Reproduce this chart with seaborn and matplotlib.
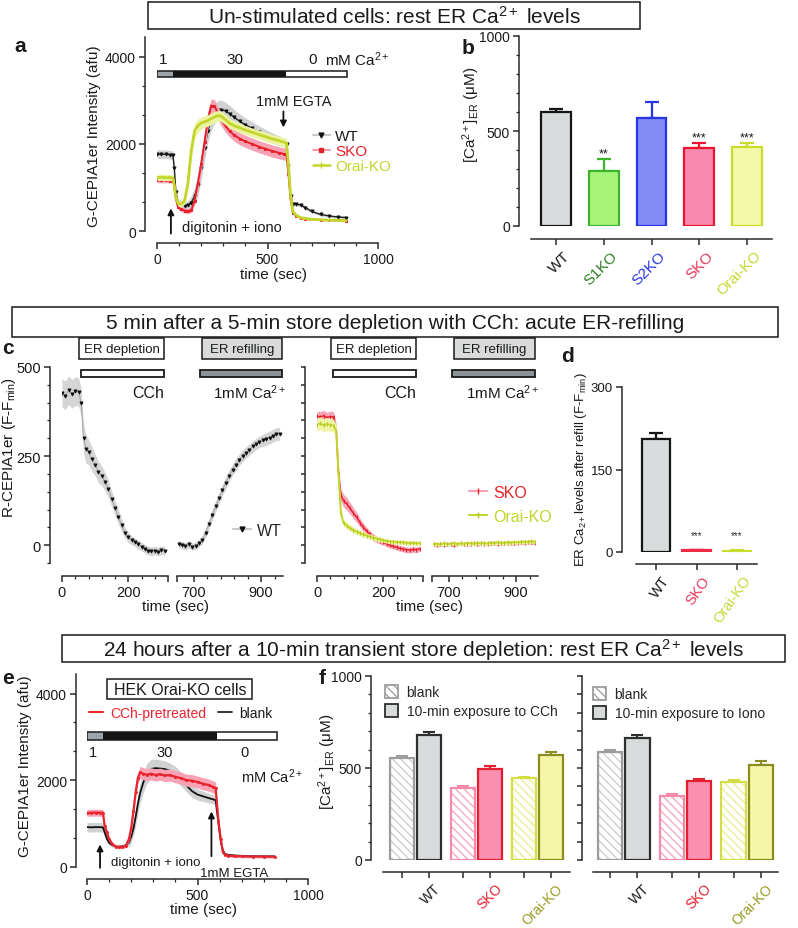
import numpy as np
import pandas as pd
import matplotlib
matplotlib.use("Agg")
import matplotlib.pyplot as plt
import seaborn as sns
from matplotlib.patches import Rectangle, Patch
from matplotlib.lines import Line2D
from matplotlib.ticker import MultipleLocator, FixedLocator, NullFormatter, AutoMinorLocator
from matplotlib.transforms import ScaledTranslation
from matplotlib import font_manager

# ======================= DATA =======================
# (a) un-stimulated cells, G-CEPIA1er traces (afu)
t_a = [0, 20, 40, 60, 72, 78, 85, 95, 110, 125, 140, 155, 170, 185, 200, 215, 230, 245, 260, 275, 290,
       310, 330, 350, 375, 400, 430, 460, 490, 520, 550, 575, 586, 595, 605, 615, 630, 650, 670, 700,
       740, 780, 820, 855]
wt_a = [1770, 1760, 1765, 1750, 1740, 1450, 900, 650, 600, 580, 590, 650, 800, 1050, 1450, 1900, 2300,
        2550, 2700, 2770, 2790, 2760, 2690, 2610, 2520, 2440, 2360, 2280, 2210, 2140, 2080, 2030, 1990,
        1500, 800, 620, 615, 600, 540, 450, 380, 345, 320, 310]
wt_a_sem = [100, 100, 100, 100, 100, 150, 150, 100, 90, 90, 100, 150, 200, 250, 280, 280, 260, 240, 230,
            220, 220, 200, 190, 180, 170, 160, 150, 140, 130, 120, 110, 100, 100, 100, 80, 50, 45, 40, 40,
            35, 30, 30, 30, 30]
sko_a = [1170, 1165, 1170, 1160, 1180, 1050, 750, 550, 500, 470, 460, 480, 700, 1100, 1550, 2050, 2550,
         2880, 2870, 2720, 2570, 2410, 2290, 2200, 2120, 2060, 2000, 1940, 1890, 1840, 1800, 1770, 1750,
         1300, 700, 420, 350, 300, 280, 265, 255, 250, 245, 240]
sko_a_sem = [60, 60, 60, 60, 60, 80, 80, 60, 60, 60, 60, 60, 100, 150, 180, 200, 200, 160, 150, 150, 150,
             140, 140, 140, 140, 140, 140, 140, 140, 140, 140, 140, 140, 120, 80, 40, 30, 25, 25, 20, 20,
             20, 20, 20]
orai_a = [1230, 1235, 1225, 1230, 1220, 1050, 780, 640, 620, 700, 1100, 1850, 2300, 2420, 2480, 2510,
          2540, 2580, 2620, 2650, 2640, 2560, 2470, 2420, 2370, 2320, 2270, 2220, 2170, 2120, 2080, 2040,
          2020, 1500, 800, 450, 360, 310, 290, 270, 260, 250, 245, 240]
orai_a_sem = [70, 70, 70, 70, 70, 80, 80, 70, 70, 80, 150, 200, 180, 150, 140, 130, 130, 130, 130, 120,
              120, 120, 110, 110, 110, 100, 100, 100, 100, 100, 100, 100, 100, 100, 80, 40, 30, 25, 25,
              20, 20, 20, 20, 20]
ca_a_times = [0, 72, 585, 860]
ca_levels = ["1", "30", "0"]

# (b) resting [Ca2+]ER (uM)
cats_b = ["WT", "S1KO", "S2KO", "SKO", "Orai-KO"]
vals_b = [598, 290, 567, 412, 415]
err_b = [18, 62, 88, 26, 23]
stars_b = ["", "**", "", "***", "***"]

# (c) R-CEPIA1er, depletion (CCh) and refilling (1 mM Ca2+)
t_dep = [0, 10, 20, 30, 40, 50, 58, 65, 72, 80, 90, 100, 110, 120, 130, 140, 150, 160, 170, 180, 190,
         200, 210, 220, 230, 240, 250, 260, 270, 280, 290, 300, 310]
t_ref = [655, 665, 675, 685, 695, 705, 715, 725, 735, 745, 755, 765, 775, 785, 795, 805, 815, 825, 835,
         845, 855, 865, 875, 885, 895, 905, 915, 925, 935, 945, 955]
wt_dep = [428, 420, 435, 425, 432, 430, 400, 300, 270, 262, 242, 225, 205, 195, 178, 158, 130, 105, 80,
          57, 35, 22, 14, 8, 2, -4, -10, -15, -17, -15, -18, -14, -16]
wt_dep_sem = [40, 40, 40, 40, 40, 40, 40, 40, 40, 35, 35, 30, 30, 28, 25, 25, 22, 20, 20, 18, 15, 15,
              12, 12, 12, 12, 12, 12, 12, 12, 12, 12, 12]
wt_ref = [3, 0, -3, 2, -4, -2, 5, 15, 35, 60, 85, 110, 132, 155, 175, 195, 212, 226, 240, 250, 260, 268,
          277, 284, 290, 294, 298, 302, 307, 312, 312]
wt_ref_sem = [10, 10, 10, 10, 10, 10, 10, 12, 12, 14, 15, 15, 16, 16, 16, 16, 16, 16, 16, 16, 16, 16,
              16, 16, 16, 17, 18, 18, 18, 18, 18]
sko_dep = [362, 360, 363, 358, 361, 360, 320, 200, 140, 125, 116, 103, 90, 78, 63, 50, 40, 30, 22, 16,
           12, 8, 4, 0, -3, -6, -9, -11, -13, -14, -12, -13, -10]
sko_dep_sem = [15, 15, 15, 15, 15, 15, 20, 20, 18, 18, 18, 16, 15, 14, 12, 12, 10, 10, 10, 9, 9, 8, 8,
               8, 8, 8, 8, 8, 8, 8, 8, 8, 8]
orai_dep = [338, 342, 336, 340, 338, 335, 320, 200, 90, 62, 55, 48, 42, 38, 34, 30, 27, 24, 21, 18, 16,
            14, 12, 10, 10, 9, 8, 8, 7, 6, 7, 5, 6]
orai_dep_sem = [18, 18, 18, 18, 18, 18, 18, 15, 12, 10, 10, 9, 9, 8, 8, 8, 7, 7, 7, 7, 7, 6, 6, 6, 6,
                6, 6, 6, 6, 6, 6, 6, 6]
sko_ref = [2, 0, 3, 1, 2, 4, 0, 3, 5, 2, 4, 3, 6, 2, 5, 4, 3, 6, 5, 4, 6, 5, 7, 6, 5, 7, 8, 6, 9, 8, 7]
sko_ref_sem = [5, 5, 6, 5, 5, 6, 5, 5, 6, 5, 5, 6, 5, 5, 6, 5, 5, 6, 5, 5, 6, 5, 5, 6, 5, 5, 6, 5, 5, 6, 5]
orai_ref = [3, 4, 2, 5, 3, 4, 6, 3, 5, 4, 6, 5, 4, 7, 5, 6, 5, 7, 6, 8, 6, 7, 8, 7, 9, 8, 9, 10, 9, 11, 10]
orai_ref_sem = [5, 5, 5, 6, 5, 5, 5, 6, 5, 5, 5, 6, 5, 5, 5, 6, 5, 5, 5, 6, 5, 5, 5, 6, 5, 5, 5, 6, 5, 5, 5]

# (d) ER Ca2+ after refill (F-Fmin)
cats_d = ["WT", "SKO", "Orai-KO"]
vals_d = [205, 3, 2]
err_d = [11, 1, 1]
stars_d = ["", "***", "***"]

# (e) HEK Orai-KO cells, 24 h after CCh pre-treatment
t_e = [0, 20, 40, 60, 72, 80, 90, 100, 115, 130, 145, 160, 175, 190, 200, 210, 220, 230, 240, 255, 270,
       290, 310, 330, 350, 375, 400, 425, 450, 475, 500, 525, 550, 570, 582, 595, 605, 615, 625, 640, 670,
       700, 750, 800, 850]
cch_e = [1250, 1250, 1255, 1250, 1250, 950, 800, 640, 530, 470, 460, 470, 480, 650, 900, 1280, 1720,
         2050, 2180, 2150, 2130, 2150, 2120, 2140, 2110, 2120, 2080, 2050, 2000, 1990, 1960, 1920, 1890,
         1850, 1820, 1050, 650, 340, 280, 260, 250, 245, 240, 240, 235]
cch_e_sem = [80, 80, 80, 80, 80, 70, 60, 50, 40, 40, 40, 40, 40, 60, 80, 100, 120, 130, 140, 140, 140,
             140, 140, 140, 140, 140, 140, 140, 140, 140, 140, 140, 140, 140, 140, 100, 60, 40, 30, 30, 30,
             30, 30, 30, 30]
blank_e = [920, 915, 920, 918, 915, 800, 650, 560, 500, 470, 470, 480, 500, 560, 700, 880, 1150, 1450,
           1700, 1950, 2150, 2260, 2280, 2270, 2260, 2220, 2150, 2030, 1880, 1750, 1670, 1630, 1590, 1560,
           1540, 1000, 600, 380, 300, 280, 265, 258, 250, 248, 245]
blank_e_sem = [110, 110, 110, 110, 110, 90, 70, 50, 40, 40, 40, 40, 50, 80, 120, 160, 200, 220, 230, 230,
               230, 220, 210, 200, 190, 180, 170, 160, 150, 140, 130, 120, 110, 100, 100, 80, 50, 30, 25,
               25, 25, 25, 25, 25, 25]
ca_e_times = [0, 72, 590, 860]

# (f) resting [Ca2+]ER 24 h after 10-min exposure
groups_f = ["WT", "SKO", "Orai-KO"]
cch_blank = [554, 391, 446]
cch_blank_err = [9, 11, 6]
cch_treat = [679, 494, 571]
cch_treat_err = [16, 17, 16]
iono_blank = [587, 348, 424]
iono_blank_err = [11, 11, 11]
iono_treat = [663, 429, 516]
iono_treat_err = [16, 11, 22]

# ======================= STYLE =======================
sns.set_style("ticks")
plt.rcParams["font.family"] = ["Liberation Sans", "DejaVu Sans"]
plt.rcParams["mathtext.fontset"] = "custom"
plt.rcParams["mathtext.rm"] = "Liberation Sans"
plt.rcParams["mathtext.it"] = "Liberation Sans:italic"
plt.rcParams["mathtext.bf"] = "Liberation Sans:bold"
plt.rcParams["mathtext.default"] = "regular"
plt.rcParams["hatch.linewidth"] = 0.9
names = {f.name for f in font_manager.fontManager.ttflist}
TITLE_FAM = ["Liberation Sans Narrow", "Liberation Sans"] if "Liberation Sans Narrow" in names else ["Liberation Sans"]

INK = "#1a1a1a"
W, H = 798, 929
fig = plt.figure(figsize=(W / 100, H / 100), dpi=100)


def add_ax(x0, x1, ytop, ybot):
    ax = fig.add_axes([x0 / W, 1 - ybot / H, (x1 - x0) / W, (ybot - ytop) / H])
    ax.patch.set_alpha(0)
    ax.pxbox = (x0, x1, ytop, ybot)
    return ax


def style(ax, loff, boff, left=True, labelsize=10):
    sns.despine(ax=ax)
    ax.spines["left"].set_position(("outward", loff * 0.72))
    ax.spines["bottom"].set_position(("outward", boff * 0.72))
    for s in ("left", "bottom"):
        ax.spines[s].set_linewidth(1.1)
        ax.spines[s].set_color("#2a2a2a")
    ax.tick_params(which="major", direction="out", length=4.5, width=1.1, color="#2a2a2a",
                   labelsize=labelsize, pad=2, labelcolor=INK)
    ax.tick_params(which="minor", direction="out", length=2.5, width=0.9, color="#2a2a2a")
    if not left:
        ax.spines["left"].set_visible(False)
        ax.tick_params(axis="y", which="both", left=False, labelleft=False)
    ax.grid(False)


def ylab(ax, text, xright, ycen, size):
    ax.set_ylabel(text, fontsize=size, color=INK)
    x0, x1, yt, yb = ax.pxbox
    ax.yaxis.set_label_coords((xright - x0) / (x1 - x0), (yb - ycen) / (yb - yt))


def xlab(ax, text, xc, ytop, size):
    ax.set_xlabel(text, fontsize=size, color=INK)
    x0, x1, yt, yb = ax.pxbox
    ax.xaxis.set_label_coords((xc - x0) / (x1 - x0), (yb - ytop) / (yb - yt))


def shift_labels(ax, dx_px):
    off = ScaledTranslation(dx_px / 100, 0, fig.dpi_scale_trans)
    for lbl in ax.get_xticklabels():
        lbl.set_transform(lbl.get_transform() + off)


def ftext(x, y, s, **kw):
    kw.setdefault("color", INK)
    return fig.text(x / W, 1 - y / H, s, **kw)


def frect(x0, y0, x1, y1, fc="white", ec=INK, lw=1.1):
    fig.add_artist(Rectangle((x0 / W, 1 - y1 / H), (x1 - x0) / W, (y1 - y0) / H,
                             transform=fig.transFigure, facecolor=fc, edgecolor=ec, linewidth=lw))


def trace(ax, t, y, sem, band_c, line_c, lw, marker=None, ms=0, mcol=None, z=2):
    t = np.asarray(t, float)
    y = np.asarray(y, float)
    s = np.asarray(sem, float)
    ax.fill_between(t, y - s, y + s, color=band_c, lw=0, zorder=z)
    kw = dict(color=line_c, lw=lw, zorder=z + 0.5, legend=False, errorbar=None, ax=ax)
    if marker:
        kw.update(marker=marker, markersize=ms, markerfacecolor=mcol, markeredgecolor=mcol,
                  markeredgewidth=0.7)
    sns.lineplot(x=t, y=y, **kw)


def ca_bar(ax, times, y0, y1, colors):
    for a, b, c in zip(times[:-1], times[1:], colors):
        ax.add_patch(Rectangle((a, y0), b - a, y1 - y0, facecolor=c, edgecolor="none", zorder=5))
    ax.add_patch(Rectangle((times[0], y0), times[-1] - times[0], y1 - y0, facecolor="none",
                           edgecolor=INK, lw=1.1, zorder=6))


def arrow(ax, x, y_from, y_to):
    ax.annotate("", xy=(x, y_to), xytext=(x, y_from),
                arrowprops=dict(arrowstyle="-|>", color="#111111", lw=1.3, mutation_scale=9,
                                shrinkA=0, shrinkB=0), annotation_clip=False)


def panel_label(x, y, s):
    ftext(x, y, s, fontsize=15, fontweight="bold", ha="center", va="center")


# ======================= TITLE BOXES =======================
frect(148, 3, 640, 30)
ftext(394, 17, "Un-stimulated cells: rest ER Ca$^{2+}$ levels", ha="center", va="center",
      fontsize=15, family=TITLE_FAM)
frect(12, 308, 778, 338)
ftext(395, 323.5, "5 min after a 5-min store depletion with CCh: acute ER-refilling", ha="center",
      va="center", fontsize=15, family=TITLE_FAM)
frect(62, 636, 785, 663)
ftext(423, 650, "24 hours after a 10-min transient store depletion: rest ER Ca$^{2+}$ levels",
      ha="center", va="center", fontsize=15, family=TITLE_FAM)

# ======================= PANEL a =======================
axa = add_ax(157, 378, 38.4, 232)
trace(axa, t_a, wt_a, wt_a_sem, "#cfd1d2", "#222222", 1.0, "v", 2.2, "#111111", z=2)
trace(axa, t_a, sko_a, sko_a_sem, "#f7a3b5", "#e8202a", 1.4, "s", 1.8, "#e8202a", z=3)
trace(axa, t_a, orai_a, orai_a_sem, "#ecf4a2", "#c3d52b", 2.0, z=4)
axa.set_xlim(0, 1000)
axa.set_ylim(0, 4450)
style(axa, 12, 12)
axa.xaxis.set_major_locator(MultipleLocator(500))
axa.xaxis.set_minor_locator(MultipleLocator(100))
axa.yaxis.set_major_locator(MultipleLocator(2000))
axa.yaxis.set_minor_locator(AutoMinorLocator(3))
ylab(axa, "G-CEPIA1er Intensity (afu)", 101, 136, 11)
xlab(axa, "time (sec)", 273, 268, 11)
ca_bar(axa, ca_a_times, 3540, 3680, ["#9ea4a8", "#141414", "white"])
for tx, s in zip([27, 352, 705], ca_levels):
    axa.text(tx, 3954, s, ha="center", va="center", fontsize=11, color=INK)
axa.text(758, 3954, "mM Ca$^{2+}$", ha="left", va="center", fontsize=11, color=INK)
axa.text(618, 2990, "1mM EGTA", ha="center", va="center", fontsize=10.5, color=INK)
arrow(axa, 572, 2750, 2380)
arrow(axa, 63, -60, 520)
axa.text(113, 92, "digitonin + iono", ha="left", va="center", fontsize=10.5, color=INK)
axa.legend([Line2D([], [], color="#c8c8c8", lw=1.5, marker="v", ms=3.5, mfc="#111", mec="#111"),
            Line2D([], [], color="#f4a0b0", lw=1.5, marker="s", ms=3, mfc="#e8202a", mec="#e8202a"),
            Line2D([], [], color="#c3d52b", lw=1.8, marker="|", ms=4, mec="#c3d52b")],
           ["WT", "SKO", "Orai-KO"], loc="upper left", bbox_to_anchor=(313 / W, 1 - 130 / H),
           bbox_transform=fig.transFigure, frameon=False, fontsize=11, handlelength=1.1,
           handletextpad=0.35, labelspacing=0.08, borderpad=0, borderaxespad=0,
           labelcolor=[INK, "#e8202a", "#c3d52b"])
panel_label(20, 46, "a")

# ======================= PANEL b =======================
fill_b = ["#d9dcdc", "#a7f47b", "#818cf7", "#f88ab0", "#f2f9a9"]
edge_b = ["#151515", "#3db52b", "#2434e6", "#ec1530", "#c9dc2c"]
tick_b = [INK, "#2f7d21", "#2b37e3", "#e8385a", "#c6d834"]
axb = add_ax(531, 772, 37, 227)
sns.barplot(x=cats_b, y=vals_b, hue=cats_b, palette=fill_b, legend=False, width=0.62, errorbar=None,
            ax=axb, saturation=1)
for p, ec in zip(sorted(axb.patches, key=lambda p: p.get_x()), edge_b):
    p.set_edgecolor(ec)
    p.set_linewidth(1.6)
    p.set_zorder(3)
for i, (v, e, ec) in enumerate(zip(vals_b, err_b, edge_b)):
    axb.errorbar(i, v, yerr=[[0], [e]], fmt="none", ecolor=ec, elinewidth=1.6, capsize=5,
                 capthick=1.6, zorder=2)
for i, (v, e, s) in enumerate(zip(vals_b, err_b, stars_b)):
    if s:
        axb.text(i, v + e + 30, s, ha="center", va="center", fontsize=9, color=INK)
axb.set_xlim(-0.52, 4.52)
axb.set_ylim(0, 1000)
style(axb, 12, 13)
axb.yaxis.set_major_locator(MultipleLocator(500))
axb.yaxis.set_minor_locator(MultipleLocator(100))
axb.set_xticks(range(len(cats_b)))
axb.set_xticklabels(cats_b, rotation=45, ha="right", rotation_mode="anchor", fontsize=11)
for lbl, c in zip(axb.get_xticklabels(), tick_b):
    lbl.set_color(c)
shift_labels(axb, 7)
axb.set_xlabel("")
ylab(axb, "[Ca$^{2+}$]$_{ER}$ (μM)", 482, 115, 11)
panel_label(468, 49, "b")

# ======================= PANEL c =======================
def c_axes(xl0, xl1, xr0, xr1, left_labels):
    a1 = add_ax(xl0, xl1, 368, 564)
    a2 = add_ax(xr0, xr1, 368, 564)
    for ax in (a1, a2):
        ax.set_ylim(-50, 500)
    a1.set_xlim(0, 320)
    a2.set_xlim(650, 965)
    style(a1, 12, 13, labelsize=10.5)
    style(a2, 0, 13, left=False, labelsize=10.5)
    a1.xaxis.set_major_locator(FixedLocator([0, 200, 320]))
    a1.set_xticklabels(["0", "200", ""])
    a1.xaxis.set_minor_locator(FixedLocator([40, 80, 120, 160, 240, 280]))
    a2.xaxis.set_major_locator(FixedLocator([650, 700, 900]))
    a2.set_xticklabels(["", "700", "900"])
    a2.xaxis.set_minor_locator(FixedLocator([740, 780, 820, 860, 940]))
    if left_labels:
        a1.yaxis.set_major_locator(FixedLocator([0, 250, 500]))
        a1.yaxis.set_minor_locator(MultipleLocator(50))
    else:
        a1.yaxis.set_major_locator(MultipleLocator(50))
        a1.yaxis.set_major_formatter(NullFormatter())
        a1.tick_params(axis="y", which="major", length=3)
    return a1, a2


axc1, axc2 = c_axes(62, 168, 177, 283, True)
trace(axc1, t_dep, wt_dep, wt_dep_sem, "#d3d5d6", "#a8a8a8", 0.8, "v", 2.2, "#111111")
trace(axc2, t_ref, wt_ref, wt_ref_sem, "#d3d5d6", "#a8a8a8", 0.8, "v", 2.2, "#111111")
ylab(axc1, "R-CEPIA1er (F-F$_{min}$)", 18, 448, 11)
axc3, axc4 = c_axes(317, 423, 432, 538, False)
trace(axc3, t_dep, sko_dep, sko_dep_sem, "#f7a7ba", "#e8202a", 1.1, "|", 2.5, "#e8202a", z=2)
trace(axc4, t_ref, sko_ref, sko_ref_sem, "#f7a7ba", "#e8202a", 1.1, "|", 2.5, "#e8202a", z=2)
trace(axc3, t_dep, orai_dep, orai_dep_sem, "#eef5a5", "#c3d52b", 1.4, "|", 2.5, "#b5c825", z=3)
trace(axc4, t_ref, orai_ref, orai_ref_sem, "#eef5a5", "#c3d52b", 1.4, "|", 2.5, "#b5c825", z=3)
ftext(175, 600, "time (sec)", ha="center", va="top", fontsize=11)
ftext(430, 600, "time (sec)", ha="center", va="top", fontsize=11)
for (b0, b1, r0, r1) in [(79, 164, 202, 282), (331, 416, 454, 535)]:
    frect(b0, 339, b1, 360, fc="white")
    ftext((b0 + b1) / 2, 350, "ER depletion", ha="center", va="center", fontsize=9.5)
    frect(r0, 339, r1, 360, fc="#d9dbdb")
    ftext((r0 + r1) / 2, 350, "ER refilling", ha="center", va="center", fontsize=9.5)
    frect(b0 + 2, 371, b1, 378, fc="white", lw=1.3)
    frect(r0 - 2, 371, r1, 378, fc="#8c9396", lw=1.3)
    ftext(b1, 393, "CCh", ha="right", va="center", fontsize=11.5)
    ftext(r1 + 4, 393, "1mM Ca$^{2+}$", ha="right", va="center", fontsize=11)
axc2.legend([Line2D([], [], color="#c8c8c8", lw=1.5, marker="v", ms=3.5, mfc="#111", mec="#111")],
            ["WT"], loc="upper left", bbox_to_anchor=(233 / W, 1 - 524 / H),
            bbox_transform=fig.transFigure, frameon=False, fontsize=11.5, handlelength=1.1,
            handletextpad=0.4, borderpad=0, borderaxespad=0)
axc4.legend([Line2D([], [], color="#f4a0b0", lw=1.5, marker="|", ms=4, mec="#e8202a"),
             Line2D([], [], color="#c3d52b", lw=1.5, marker="|", ms=4, mec="#b5c825")],
            ["SKO", "Orai-KO"], loc="upper left", bbox_to_anchor=(469 / W, 1 - 486 / H),
            bbox_transform=fig.transFigure, frameon=False, fontsize=11.5, handlelength=1.1,
            handletextpad=0.4, labelspacing=0.55, borderpad=0, borderaxespad=0,
            labelcolor=["#e8202a", "#c3d52b"])
panel_label(8, 348, "c")

# ======================= PANEL d =======================
fill_d = ["#d9dcdc", "#f0354e", "#d6e43a"]
edge_d = ["#151515", "#ee2a45", "#cbdc30"]
tick_d = [INK, "#e8385a", "#c6d834"]
axd = add_ax(636, 757, 388, 553)
sns.barplot(x=cats_d, y=vals_d, hue=cats_d, palette=fill_d, legend=False, width=0.7, errorbar=None,
            ax=axd, saturation=1)
for p, ec in zip(sorted(axd.patches, key=lambda p: p.get_x()), edge_d):
    p.set_edgecolor(ec)
    p.set_linewidth(1.6)
    p.set_zorder(3)
for i, (v, e, ec) in enumerate(zip(vals_d, err_d, edge_d)):
    axd.errorbar(i, v, yerr=[[0], [e]], fmt="none", ecolor=ec, elinewidth=1.6, capsize=5,
                 capthick=1.6, zorder=2)
for i, (v, s) in enumerate(zip(vals_d, stars_d)):
    if s:
        axd.text(i, 30, s, ha="center", va="center", fontsize=7, color="#333333")
axd.set_xlim(-0.49, 2.49)
axd.set_ylim(0, 300)
style(axd, 14, 12, labelsize=9.5)
axd.yaxis.set_major_locator(MultipleLocator(150))
axd.set_xticks(range(len(cats_d)))
axd.set_xticklabels(cats_d, rotation=55, ha="right", rotation_mode="anchor", fontsize=10.5)
for lbl, c in zip(axd.get_xticklabels(), tick_d):
    lbl.set_color(c)
shift_labels(axd, 5)
axd.set_xlabel("")
ylab(axd, "ER Ca$_{2+}$levels after refill (F-F$_{min}$)", 589, 470, 9.5)
panel_label(568, 356, "d")

# ======================= PANEL e =======================
axe = add_ax(87, 308, 675, 868)
trace(axe, t_e, blank_e, blank_e_sem, "#cfd1d2", "#111111", 1.3, z=2)
trace(axe, t_e, cch_e, cch_e_sem, "#f8a2b3", "#e8252f", 1.6, "o", 1.4, "#e8252f", z=3)
axe.set_xlim(0, 1000)
axe.set_ylim(0, 4450)
style(axe, 11, 12)
axe.xaxis.set_major_locator(MultipleLocator(500))
axe.xaxis.set_minor_locator(MultipleLocator(100))
axe.yaxis.set_major_locator(MultipleLocator(2000))
axe.yaxis.set_minor_locator(AutoMinorLocator(3))
ylab(axe, "G-CEPIA1er Intensity (afu)", 32, 766, 11)
xlab(axe, "time (sec)", 204, 903, 11)
ca_bar(axe, ca_e_times, 2930, 3114, ["#9ea4a8", "#141414", "white"])
for tx, s in zip([27, 351, 712], ca_levels):
    axe.text(tx, 2653, s, ha="center", va="center", fontsize=10.5, color=INK)
axe.text(698, 2100, "mM Ca$^{2+}$", ha="left", va="center", fontsize=10.5, color=INK)
arrow(axe, 59, -20, 520)
arrow(axe, 563, 250, 1280)
axe.text(108, 115, "digitonin + iono", ha="left", va="center", fontsize=9.5, color=INK)
axe.text(667, -130, "1mM EGTA", ha="center", va="center", fontsize=9.5, color=INK)
frect(107, 680, 252, 700)
ftext(180, 690.5, "HEK Orai-KO cells", ha="center", va="center", fontsize=11.5)
axe.legend([Line2D([], [], color="#e8252f", lw=1.5), Line2D([], [], color="#111111", lw=1.2)],
           ["CCh-pretreated", "blank"], ncol=2, loc="upper left", bbox_to_anchor=(89 / W, 1 - 707 / H),
           bbox_transform=fig.transFigure, frameon=False, fontsize=10, handlelength=1.0,
           handletextpad=0.5, columnspacing=0.9, borderpad=0, borderaxespad=0,
           labelcolor=["#e8252f", INK])
panel_label(8, 679, "e")

# ======================= PANEL f =======================
HATCH = "\\\\\\\\"
f_styles = [("h", "#c9cbcc", "#9b9d9e"), ("f", "#d8dbdb", "#2e2e2e"),
            ("h", "#f5a3bc", "#f28aa8"), ("f", "#f98fb1", "#e41f2d"),
            ("h", "#e6ee8c", "#d3de45"), ("f", "#f3f7a6", "#8b8b1f")]
tick_f = [INK, "#e41f2d", "#9a9a25"]


def bars_f(ax, blank, treat, blank_err, treat_err, treat_name):
    df = pd.DataFrame({"group": groups_f + groups_f,
                       "cond": ["blank"] * len(groups_f) + [treat_name] * len(groups_f),
                       "value": blank + treat})
    sns.barplot(data=df, x="group", y="value", hue="cond", order=groups_f,
                hue_order=["blank", treat_name], width=0.88, gap=0.1, errorbar=None, legend=False,
                ax=ax, saturation=1, palette=["white", "white"])
    patches = sorted(ax.patches, key=lambda p: p.get_x())
    vals, errs = [], []
    for b, t, be, te in zip(blank, treat, blank_err, treat_err):
        vals += [b, t]
        errs += [be, te]
    centers = []
    for p, (kind, col, edge), v, e in zip(patches, f_styles, vals, errs):
        cx = p.get_x() + p.get_width() / 2
        centers.append(cx)
        if kind == "h":
            p.set_facecolor("white")
            p.set_hatch(HATCH)
            p.set_edgecolor(col)
            p.set_linewidth(0)
            ax.add_patch(Rectangle(p.get_xy(), p.get_width(), p.get_height(), fill=False,
                                   edgecolor=edge, lw=1.6, zorder=4))
        else:
            p.set_facecolor(col)
            p.set_edgecolor(edge)
            p.set_linewidth(1.6)
        p.set_zorder(3)
        ax.errorbar(cx, v, yerr=[[0], [e]], fmt="none", ecolor=edge, elinewidth=1.5, capsize=4,
                    capthick=1.5, zorder=2)
    return centers


axf1 = add_ax(383, 570, 677, 861)
cent1 = bars_f(axf1, cch_blank, cch_treat, cch_blank_err, cch_treat_err, "CCh")
axf2 = add_ax(593, 778, 677, 861)
cent2 = bars_f(axf2, iono_blank, iono_treat, iono_blank_err, iono_treat_err, "Iono")
for ax, cents, xl, loff in [(axf1, cent1, (-0.53, 2.53), 12), (axf2, cent2, (-0.5, 2.5), 11)]:
    ax.set_xlim(*xl)
    ax.set_ylim(0, 1000)
    style(ax, loff, 12)
    ax.set_xticks(cents)
    ax.set_xticklabels(["", "WT", "", "SKO", "", "Orai-KO"], rotation=45, ha="right",
                       rotation_mode="anchor", fontsize=10)
    for lbl, c in zip(ax.get_xticklabels()[1::2], tick_f):
        lbl.set_color(c)
    shift_labels(ax, 5)
    ax.set_xlabel("")
    ax.set_ylabel("")
axf1.yaxis.set_major_locator(MultipleLocator(500))
axf1.yaxis.set_minor_locator(MultipleLocator(100))
axf2.yaxis.set_major_locator(MultipleLocator(100))
axf2.yaxis.set_major_formatter(NullFormatter())
axf2.tick_params(axis="y", which="major", length=3.5)
ylab(axf1, "[Ca$^{2+}$]$_{ER}$ (μM)", 338, 762, 11)
for ax, lab, anchor in [(axf1, "10-min exposure to CCh", (385, 686)),
                        (axf2, "10-min exposure to Iono", (593, 688))]:
    ax.legend([Patch(facecolor="white", edgecolor="#9b9d9e", hatch=HATCH, lw=1.3),
               Patch(facecolor="#d8dbdb", edgecolor="#2e2e2e", lw=1.3)],
              ["blank", lab], loc="upper left", bbox_to_anchor=(anchor[0] / W, 1 - anchor[1] / H),
              bbox_transform=fig.transFigure, frameon=False, fontsize=10, handlelength=0.95,
              handleheight=1.1, handletextpad=0.6, labelspacing=0.3, borderpad=0, borderaxespad=0)
panel_label(322, 678, "f")

fig.savefig("out.png", dpi=100)
